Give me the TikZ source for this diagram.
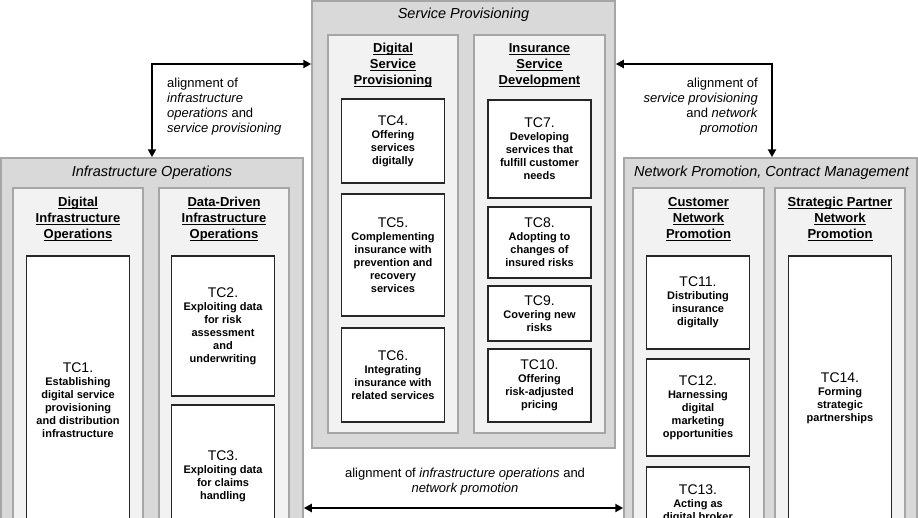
\documentclass[tikz,border=0pt]{standalone}
\usepackage{fontspec}
\setmainfont{Liberation Sans}
\usetikzlibrary{arrows.meta}
\definecolor{areagray}{HTML}{D9D9D9}
\definecolor{lanegray}{HTML}{F2F2F2}
\definecolor{edgegray}{HTML}{A6A6A6}
\newcommand{\hdline}[1]{\setbox0\hbox{#1}\rlap{\rule[-2.5pt]{\wd0}{1pt}}\box0}
\newcommand{\tcnum}[1]{{\mdseries\fontsize{14}{14}\selectfont #1}}

\begin{document}
\begin{tikzpicture}[x=1pt, y=-1pt,
areabox/.style={draw=edgegray, line width=1.5pt, fill=areagray, rectangle},
lanebox/.style={draw=edgegray, line width=1.2pt, fill=lanegray, rectangle},
tc/.style={draw=black!85, line width=1.1pt, fill=white, rectangle, align=center, inner sep=1pt, minimum width=103, font=\bfseries\fontsize{11}{13}\selectfont},
areatitle/.style={inner sep=0pt, font=\itshape\fontsize{14.5}{16}\selectfont},
heading/.style={align=center, inner sep=0pt, font=\bfseries\fontsize{13}{16}\selectfont},
link/.style={line width=2.5pt, {Triangle[length=8pt,width=8pt]}-{Triangle[length=8pt,width=8pt]}},
linklabel/.style={inner sep=0pt, font=\fontsize{13}{15}\selectfont}
]
\path[use as bounding box, fill=white] (0,0) rectangle (918,517);

\node[areabox, minimum width=302, minimum height=402] (infra) at (152,359) {};
\node[areabox, minimum width=303, minimum height=447] (serv) at (463.5,224.5) {};
\node[areabox, minimum width=293, minimum height=402] (netw) at (770.5,359) {};

\node[areatitle] (infratitle) at (152,173) {Infrastructure Operations};
\node[areatitle] (servtitle) at (463.5,15) {Service Provisioning};
\node[areatitle] (netwtitle) at (771.5,173) {Network Promotion, Contract Management};

\node[lanebox, minimum width=130, minimum height=372] (dio) at (78,374) {};
\node[lanebox, minimum width=130, minimum height=372] (ddio) at (224,374) {};
\node[lanebox, minimum width=130, minimum height=398] (dsp) at (393,234) {};
\node[lanebox, minimum width=131, minimum height=398] (isd) at (539.5,234) {};
\node[lanebox, minimum width=131, minimum height=372] (cnp) at (698.5,374) {};
\node[lanebox, minimum width=130, minimum height=372] (spnp) at (840,374) {};

\node[heading] (diohead) at (78,219.5) {\hdline{Digital}\\\hdline{Infrastructure}\\\hdline{Operations}};
\node[heading] (ddiohead) at (224,219.5) {\hdline{Data-Driven}\\\hdline{Infrastructure}\\\hdline{Operations}};
\node[heading] (dsphead) at (393,65.5) {\hdline{Digital}\\\hdline{Service}\\\hdline{Provisioning}};
\node[heading] (isdhead) at (539.5,65.5) {\hdline{Insurance}\\\hdline{Service}\\\hdline{Development}};
\node[heading] (cnphead) at (698.5,219.5) {\hdline{Customer}\\\hdline{Network}\\\hdline{Promotion}};
\node[heading] (spnphead) at (840,219.5) {\hdline{Strategic Partner}\\\hdline{Network}\\\hdline{Promotion}};

\node[tc, minimum height=289] (tc1) at (78,400.5) {\tcnum{TC1.}\\Establishing\\digital service\\provisioning\\and distribution\\infrastructure};
\node[tc, minimum height=140] (tc2) at (223,326) {\tcnum{TC2.}\\Exploiting data\\for risk\\assessment\\and\\underwriting};
\node[tc, minimum height=142] (tc3) at (223,476) {\tcnum{TC3.}\\Exploiting data\\for claims\\handling};
\node[tc, minimum height=84] (tc4) at (393,141) {\tcnum{TC4.}\\Offering\\services\\digitally};
\node[tc, minimum height=122] (tc5) at (393,255) {\tcnum{TC5.}\\Complementing\\insurance with\\prevention and\\recovery\\services};
\node[tc, minimum height=94] (tc6) at (393,375) {\tcnum{TC6.}\\Integrating\\insurance with\\related services};
\node[tc, minimum height=98] (tc7) at (539.5,149) {\tcnum{TC7.}\\Developing\\services that\\fulfill customer\\needs};
\node[tc, minimum height=71] (tc8) at (539.5,242.5) {\tcnum{TC8.}\\Adopting to\\changes of\\insured risks};
\node[tc, minimum height=55] (tc9) at (539.5,313.5) {\tcnum{TC9.}\\Covering new\\risks};
\node[tc, minimum height=73] (tc10) at (539.5,385.5) {\tcnum{TC10.}\\Offering\\risk-adjusted\\pricing};
\node[tc, minimum height=93] (tc11) at (698,302.5) {\tcnum{TC11.}\\Distributing\\insurance\\digitally};
\node[tc, minimum height=97] (tc12) at (698,407.5) {\tcnum{TC12.}\\Harnessing\\digital\\marketing\\opportunities};
\node[tc, minimum height=73] (tc13) at (698,503.5) {\tcnum{TC13.}\\Acting as\\digital broker};
\node[tc, minimum height=284] (tc14) at (840,398) {\tcnum{TC14.}\\Forming\\strategic\\partnerships};

\coordinate (leftbend) at (152,64);
\coordinate (rightbend) at (772,64);
\coordinate (lowline) at (463,508);
\draw[link] (infra.north) -- (leftbend) -- (leftbend -| serv.west);
\draw[link] (serv.east |- rightbend) -- (rightbend) -- (rightbend |- netw.north);
\draw[link] (infra.east |- lowline) -- (netw.west |- lowline);

\node[linklabel, anchor=west, align=left] (leftlabel) at (167,106.5) {alignment of\\\textit{infrastructure}\\\textit{operations} and\\\textit{service provisioning}};
\node[linklabel, anchor=east, align=right] (rightlabel) at (758,106.5) {alignment of\\\textit{service provisioning}\\and \textit{network}\\\textit{promotion}};
\node[linklabel, align=center] (lowlabel) at (465,481.5) {alignment of \textit{infrastructure operations} and\\\textit{network promotion}};
\end{tikzpicture}
\end{document}
